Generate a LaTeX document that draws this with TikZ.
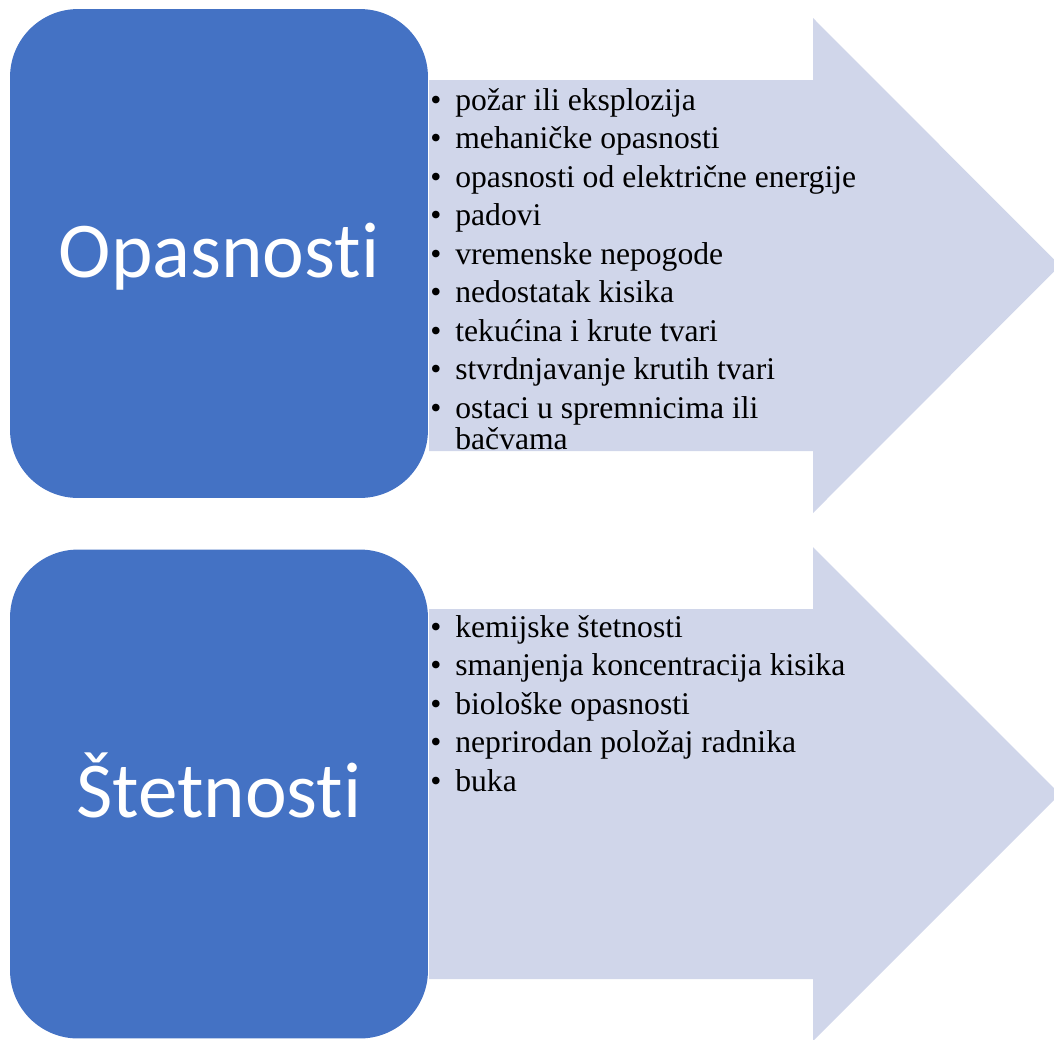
\documentclass[tikz,border=0pt]{standalone}
\usepackage{fontspec}
\setmainfont{Liberation Serif}
\newfontfamily\catfont[Ligatures=NoCommon]{Carlito}
\usetikzlibrary{positioning}
\definecolor{catblue}{RGB}{68,114,196}
\definecolor{arrowfill}{RGB}{208,214,234}

\begin{document}
\begin{tikzpicture}[x=0.02cm, y=-0.02cm,
	catbox/.style = {shape=rectangle, rounded corners=1.36cm, fill=catblue,
		minimum width=8.36cm, minimum height=9.78cm, inner sep=0pt,
		text height=0.94cm, text depth=0cm,
		text=white, font=\catfont\fontsize{45}{50}\selectfont},
	itemtext/.style = {anchor=base west, inner sep=0pt,
		font=\fontsize{18}{21}\selectfont}]
	\useasboundingbox (0,0) rectangle (1054,1039);
	\clip (0,0) rectangle (1054,1039);
	\fill[arrowfill] (429,80) -- (813,80) -- (813,18) -- (1060,265.5)
		-- (813,513) -- (813,451) -- (429,451) -- cycle;
	\fill[arrowfill] (429,609) -- (813,609) -- (813,547) -- (1060,794)
		-- (813,1041) -- (813,979) -- (429,979) -- cycle;
	\node[catbox] (opasnosti) at (219,253.5) {Opasnosti};
	\node[catbox] (stetnosti) at (219,794) {Štetnosti};
	\foreach \txt [count=\i] in {požar ili eksplozija, mehaničke opasnosti,
		opasnosti od električne energije, padovi, vremenske nepogode,
		nedostatak kisika, tekućina i krute tvari, stvrdnjavanje krutih tvari,
		ostaci u spremnicima ili} {
		\node[itemtext] (opb\i) at (430,71.5+38.5*\i) {\textbullet};
		\node[itemtext] (op\i) at (455,71.5+38.5*\i) {\txt};
	}
	\node[itemtext] (op10) at (455,449) {bačvama};
	\foreach \txt [count=\i] in {kemijske štetnosti,
		smanjenja koncentracija kisika, biološke opasnosti,
		neprirodan položaj radnika, buka} {
		\node[itemtext] (stb\i) at (430,598.5+38.5*\i) {\textbullet};
		\node[itemtext] (st\i) at (455,598.5+38.5*\i) {\txt};
	}
\end{tikzpicture}
\end{document}
